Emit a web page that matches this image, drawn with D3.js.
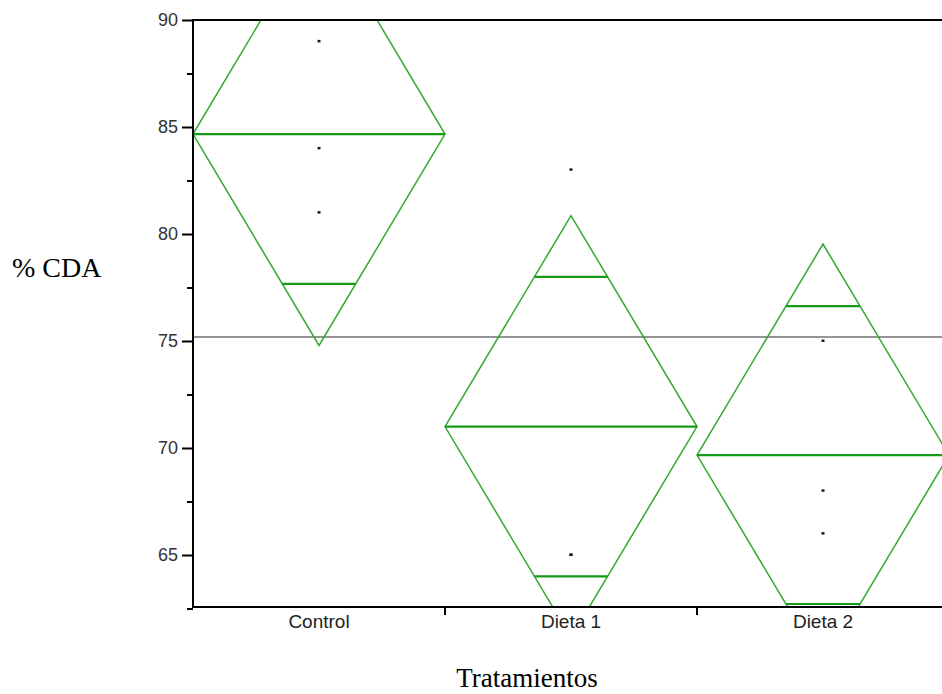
<!DOCTYPE html>
<html>

<head>
  <title>% CDA por tratamiento</title>
  <script src="https://d3js.org/d3.v7.min.js"></script>
  <style>
    body {
      margin: 0;
      background: #fff;
    }

    .tick text {
      font-family: "Liberation Sans", Arial, sans-serif;
      fill: #333;
    }

    .titulo {
      font-family: "Liberation Serif", "Times New Roman", serif;
      font-size: 28px;
      fill: #000;
    }
  </style>
</head>

<body>
  <svg id="svgCanvas" width="942" height="694"></svg>

  <script>
    const svg = d3.select("#svgCanvas");
    const width = 942, height = 694;

    // datos
    const categories = ["Control", "Dieta 1", "Dieta 2"];
    const means = [84.67, 71.0, 69.67];      // media de cada grupo
    const ciHalf = [9.88, 9.86, 9.86];       // semialtura del diamante (IC 95%)
    const overlapHalf = [7.0, 7.0, 6.96];    // marcas de solapamiento
    const pointsControl = [89, 84, 81];
    const pointsDieta1 = [83, 65, 65];
    const pointsDieta2 = [75, 68, 66];
    const grandMean = 75.19;
    const yTicks = [65, 70, 75, 80, 85, 90];
    const yMinorTicks = [62.5, 67.5, 72.5, 77.5, 82.5, 87.5];

    const points = [pointsControl, pointsDieta1, pointsDieta2];

    // área del gráfico
    const plotLeft = 193, plotTop = 20, plotBottom = 607, plotRight = 949;

    const x = d3.scaleBand().domain(categories).range([plotLeft, plotRight]).padding(0);
    const y = d3.scaleLinear().domain([62.57, 90]).range([plotBottom, plotTop]);

    svg.append("clipPath").attr("id", "plotClip")
      .append("rect")
      .attr("x", plotLeft).attr("y", plotTop)
      .attr("width", plotRight - plotLeft).attr("height", plotBottom - plotTop);

    const plot = svg.append("g").attr("clip-path", "url(#plotClip)");

    // línea de la media general
    plot.append("line")
      .attr("x1", plotLeft).attr("x2", plotRight)
      .attr("y1", y(grandMean)).attr("y2", y(grandMean))
      .attr("stroke", "#959595")
      .attr("stroke-width", 2);

    // diamantes de medias
    categories.forEach((c, i) => {
      const x0 = x(c), x1 = x(c) + x.bandwidth(), xc = x(c) + x.bandwidth() / 2;
      const m = means[i], h = ciHalf[i];
      const diamond = [
        [x0, y(m)], [xc, y(m + h)], [x1, y(m)], [xc, y(m - h)]
      ];
      plot.append("polygon")
        .attr("points", diamond.map(p => p.join(",")).join(" "))
        .attr("fill", "none")
        .attr("stroke", "#33a833")
        .attr("stroke-width", 1.5);

      // línea de la media
      plot.append("line")
        .attr("x1", x0).attr("x2", x1)
        .attr("y1", y(m)).attr("y2", y(m))
        .attr("stroke", "#179a17")
        .attr("stroke-width", 2.2);

      // marcas de solapamiento
      const hw = x.bandwidth() / 2 * (1 - overlapHalf[i] / h);
      [m + overlapHalf[i], m - overlapHalf[i]].forEach(v => {
        plot.append("line")
          .attr("x1", xc - hw).attr("x2", xc + hw)
          .attr("y1", y(v)).attr("y2", y(v))
          .attr("stroke", "#179a17")
          .attr("stroke-width", 2.2);
      });

      // puntos
      plot.selectAll(null)
        .data(points[i])
        .join("rect")
        .attr("x", xc - 1.5)
        .attr("y", d => y(d) - 1.5)
        .attr("width", 3)
        .attr("height", 2.5)
        .attr("fill", "#1a1a1a");
    });

    // eje Y
    const yAxis = svg.append("g")
      .attr("transform", `translate(${plotLeft},0)`)
      .call(d3.axisLeft(y).tickValues(yTicks).tickSize(11).tickPadding(4));
    yAxis.selectAll(".tick text").style("font-size", "18px");
    yAxis.selectAll("line").attr("stroke", "#000").attr("stroke-width", 2);
    yAxis.select(".domain").remove();

    svg.append("g")
      .attr("transform", `translate(${plotLeft},0)`)
      .call(d3.axisLeft(y).tickValues(yMinorTicks).tickSize(6).tickFormat(""))
      .call(g => g.select(".domain").remove())
      .selectAll("line").attr("stroke", "#000").attr("stroke-width", 2);

    // eje X
    const xAxis = svg.append("g")
      .attr("transform", `translate(0,${plotBottom})`)
      .call(d3.axisBottom(x).tickSize(0).tickPadding(8));
    xAxis.select(".domain").remove();
    xAxis.selectAll(".tick text").style("font-size", "19px").style("fill", "#222");

    // marcas entre categorías
    svg.append("g")
      .selectAll("line")
      .data(categories.slice(1))
      .join("line")
      .attr("x1", d => x(d)).attr("x2", d => x(d))
      .attr("y1", plotBottom).attr("y2", plotBottom + 8)
      .attr("stroke", "#000")
      .attr("stroke-width", 2);

    // marco
    svg.append("path")
      .attr("d", `M${width + 5},${plotTop} H${plotLeft} V${plotBottom} H${width + 5}`)
      .attr("fill", "none")
      .attr("stroke", "#000")
      .attr("stroke-width", 2);

    // títulos
    svg.append("text")
      .attr("class", "titulo")
      .attr("x", 12)
      .attr("y", 277)
      .text("% CDA");

    svg.append("text")
      .attr("class", "titulo")
      .attr("x", 527)
      .attr("y", 687)
      .attr("text-anchor", "middle")
      .style("font-size", "27px")
      .text("Tratamientos");
  </script>
</body>

</html>
